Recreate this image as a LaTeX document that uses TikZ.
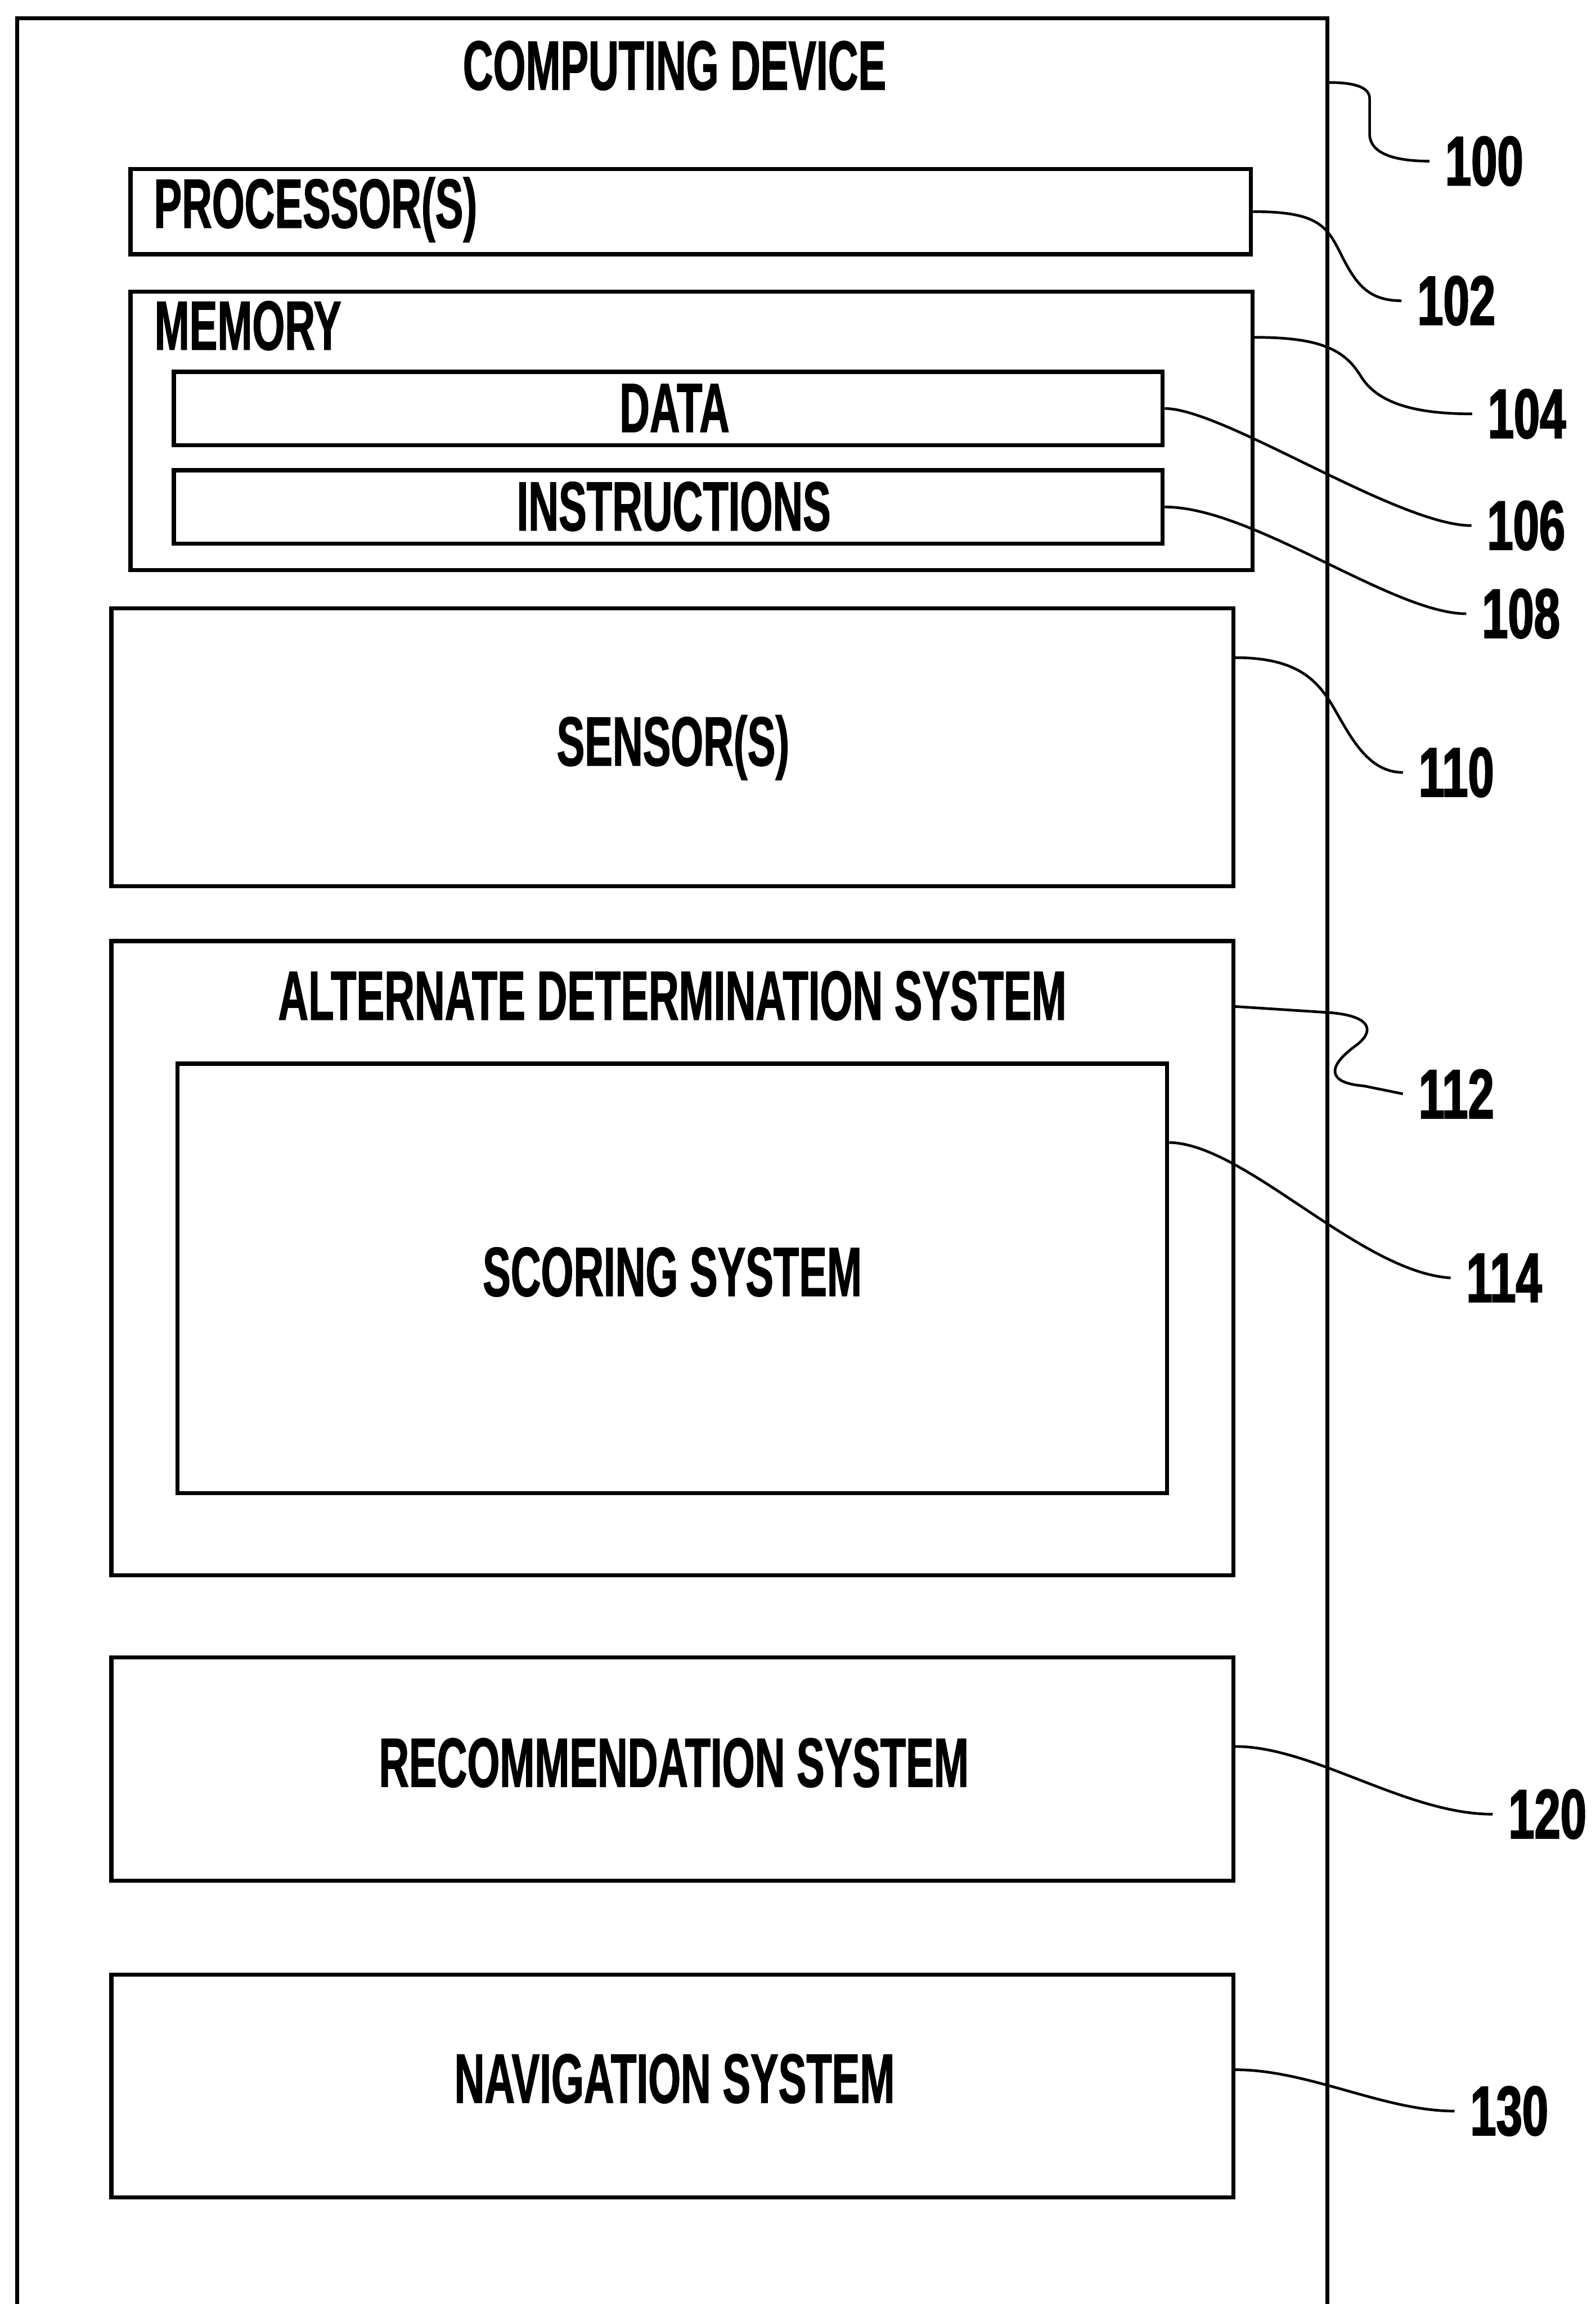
\documentclass[tikz,border=0pt]{standalone}
\usepackage{fontspec}
\newfontfamily\boxfont{Liberation Sans Bold}[FakeStretch=0.60,FakeBold=1]
\newfontfamily\numfont{Liberation Sans Bold}[FakeStretch=0.67,FakeBold=1.8]
\usetikzlibrary{calc}

\begin{document}
\begin{tikzpicture}[x=0.01cm,y=-0.01cm,
  panel/.style={draw=black, line width=0.028cm, inner sep=0pt},
  txt/.style={font=\boxfont\fontsize{13.5pt}{16pt}\selectfont, inner sep=0pt, anchor=base},
  txtl/.style={txt, anchor=base west},
  num/.style={font=\numfont\fontsize{13.5pt}{16pt}\selectfont, inner xsep=0.1cm, inner ysep=0pt, anchor=base},
  lead/.style={draw=black, line width=0.018cm}]

\useasboundingbox (0,0) rectangle (1086,1568);
\clip (0,0) rectangle (1086,1568);

% device frame (runs off the lower edge of the sheet)
\node[panel, minimum width=8.91cm, minimum height=16.07cm] (dev) at (457.5,816.5) {};
\node[txt] (devlbl) at (459,61) {COMPUTING DEVICE};

% processor and memory
\node[panel, minimum width=7.62cm, minimum height=0.58cm] (proc) at (470,144) {};
\node[txtl] (proclbl) at (104,155) {PROCESSOR(S)};

\node[panel, minimum width=7.63cm, minimum height=1.895cm] (mem) at (470.5,293.25) {};
\node[txtl] (memlbl) at (104.5,238) {MEMORY};
\node[panel, minimum width=6.725cm, minimum height=0.50cm] (data) at (454.75,278) {};
\node[txt] (datalbl) at (459,294) {DATA};
\node[panel, minimum width=6.725cm, minimum height=0.50cm] (instr) at (454.75,345) {};
\node[txt] (instrlbl) at (458.5,361) {INSTRUCTIONS};

% sensors
\node[panel, minimum width=7.63cm, minimum height=1.89cm] (sensor) at (457.5,508.5) {};
\node[txt] (sensorlbl) at (458,521) {SENSOR(S)};

% alternate determination with scoring
\node[panel, minimum width=7.63cm, minimum height=4.315cm] (alt) at (457.5,856.25) {};
\node[txt] (altlbl) at (457.5,694) {ALTERNATE DETERMINATION SYSTEM};
\node[panel, minimum width=6.73cm, minimum height=2.92cm] (score) at (457.5,870) {};
\node[txt] (scorelbl) at (457.5,882) {SCORING SYSTEM};

% recommendation and navigation
\node[panel, minimum width=7.63cm, minimum height=1.52cm] (rec) at (457.5,1204) {};
\node[txt] (reclbl) at (458.5,1216) {RECOMMENDATION SYSTEM};
\node[panel, minimum width=7.63cm, minimum height=1.515cm] (nav) at (457.5,1419.75) {};
\node[txt] (navlbl) at (459,1431) {NAVIGATION SYSTEM};

% reference numerals
\node[num] (n100) at (1010,126) {100};
\node[num] (n102) at (991,221) {102};
\node[num] (n104) at (1039,298) {104};
\node[num] (n106) at (1038.5,374) {106};
\node[num] (n108) at (1035,434) {108};
\node[num] (n110) at (991,542) {110};
\node[num] (n112) at (991,761) {112};
\node[num] (n114) at (1023.5,886) {114};
\node[num] (n120) at (1053,1251) {120};
\node[num] (n130) at (1027,1453) {130};

% leader start points on the box edges
\coordinate (s100) at ($(dev.north east)+(0,45)$);
\coordinate (s104) at ($(mem.north east)+(0,32.5)$);
\coordinate (s110) at ($(sensor.north east)+(0,35)$);
\coordinate (s112) at ($(alt.north east)+(0,46)$);
\coordinate (s114) at ($(score.north east)+(0,55)$);
\coordinate (s120) at ($(rec.north east)+(0,62)$);
\coordinate (s130) at ($(nav.north east)+(0,66)$);

% leaders
\draw[lead] (s100) .. controls +(16,0) and +(0,-8) .. (932,67) -- (932,91)
  .. controls +(0,13) and +(-25,0) .. (n100.west);
\draw[lead] (proc.east) .. controls +(45,0) and +(-10,-20) .. (913,174)
  .. controls +(10,20) and +(-22,0) .. (n102.west);
\draw[lead] (s104) .. controls +(45,0) and +(-11,-18) .. (926,256)
  .. controls +(11,18) and +(-40,0) .. (n104.west);
\draw[lead] (data.east) .. controls +(40,0) and +(-50,0) .. (n106.west);
\draw[lead] (instr.east) .. controls +(60,0) and +(-50,0) .. (n108.west);
\draw[lead] (s110) .. controls +(42,0) and +(-10,-16) .. (906,479)
  .. controls +(12,20) and +(-25,0) .. (n110.west);
\draw[lead] (s112) -- (903,689) .. controls (934,691) and (936,702) .. (922,712)
  .. controls (903,726) and (903,737) .. (928,739) -- (n112.west);
\draw[lead] (s114) .. controls +(52,1) and +(-62,-4) .. (n114.west);
\draw[lead] (s120) .. controls +(53,0) and +(-59,0) .. (n120.west);
\draw[lead] (s130) .. controls +(50,0) and +(-48,0) .. (n130.west);
\end{tikzpicture}
\end{document}
